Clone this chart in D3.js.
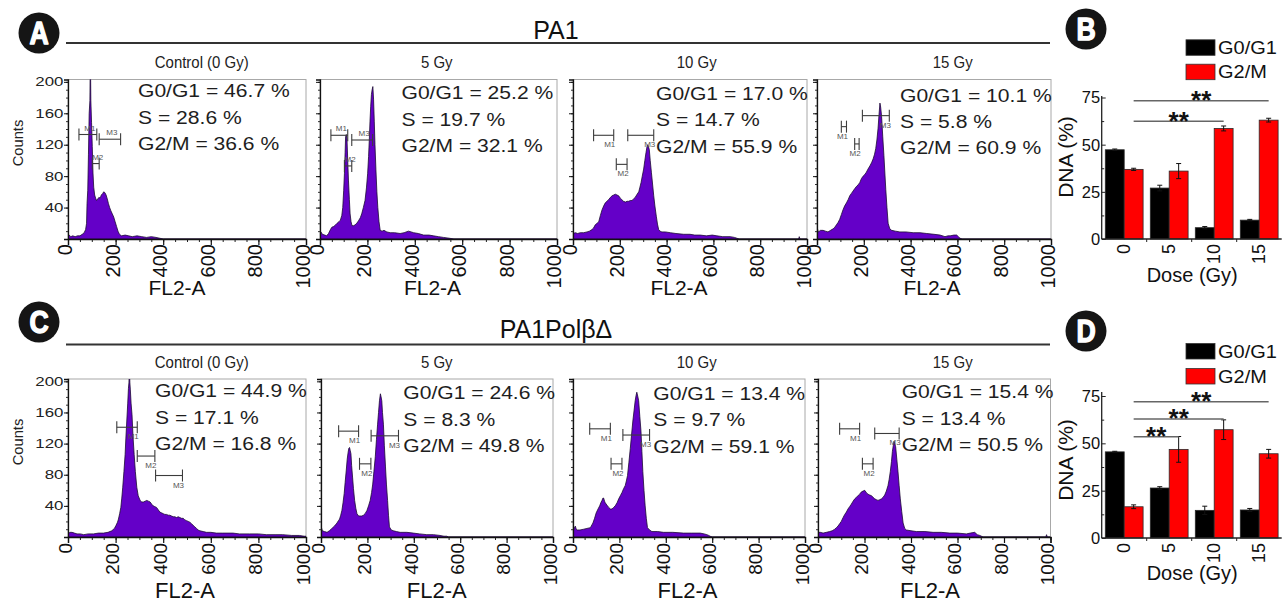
<!DOCTYPE html>
<html>
<head>
<meta charset="utf-8">
<script src="https://cdn.jsdelivr.net/npm/d3@7"></script>
<style>
  body { margin: 0; background: #fff; }
  svg { display: block; }
  text { font-family: Arial, "Liberation Sans", Helvetica, sans-serif; }
</style>
</head>
<body>
<svg id="fig" width="1287" height="606"></svg>
<script>
// ---------------- data ----------------
const doseTitles = ["Control (0 Gy)", "5 Gy", "10 Gy", "15 Gy"];
const doseTicks = ["0", "5", "10", "15"];
const channelTicks = [0, 200, 400, 600, 800, 1000];
const countTicks = [40, 80, 120, 160, 200];
const pctTicks = [0, 25, 50, 75];
const phaseNames = ["G0/G1", "G2/M"];

// FL2-A histograms, [channel, counts]
const pa1Hist0Gy = [[0,2],[5,5],[12,3],[20,4],[30,3],[40,4],[50,4],[60,6],[68,8],[74,12],[78,20],[80,45],[83,62],[86,108],[89,160],[92,176],[94,240],[96,176],[99,148],[102,118],[105,84],[108,66],[112,56],[116,52],[120,49],[125,51],[130,53],[135,52],[140,56],[146,58],[150,60],[155,59],[160,56],[165,51],[170,45],[175,40],[180,36],[186,32],[192,28],[198,22],[204,16],[210,10],[216,6],[225,4],[240,5],[255,4],[270,3],[290,4],[310,3],[330,2],[350,3],[370,2],[385,1],[400,0],[1000,0]];
const pa1Hist5Gy = [[0,7],[4,9],[10,6],[20,5],[28,4],[36,7],[44,12],[50,15],[58,16],[66,18],[72,20],[80,22],[86,24],[92,30],[96,40],[100,62],[103,83],[106,110],[108,130],[111,133],[114,126],[117,100],[120,75],[124,50],[127,32],[131,22],[135,17],[142,17],[148,18],[155,20],[162,23],[170,27],[176,32],[183,40],[190,49],[196,65],[201,83],[205,105],[208,126],[211,150],[214,169],[217,184],[220,190],[223,194],[226,178],[229,150],[232,120],[236,88],[240,60],[244,40],[249,22],[254,11],[262,10],[270,11],[282,9],[296,8],[315,8],[338,7],[355,8],[373,10],[385,9],[395,8],[415,7],[437,5],[460,5],[479,4],[500,3],[521,2],[545,1],[565,0],[1000,0]];
const pa1Hist10Gy = [[0,7],[10,8],[20,7],[31,8],[45,8],[60,9],[70,10],[81,12],[88,14],[95,18],[103,20],[110,22],[117,30],[124,37],[131,42],[138,46],[145,48],[152,50],[160,53],[167,55],[174,56],[181,57],[188,56],[195,55],[202,52],[209,50],[216,48],[224,47],[231,48],[238,48],[245,49],[252,49],[259,51],[266,53],[274,57],[281,60],[286,66],[291,72],[296,80],[302,89],[307,100],[312,110],[316,117],[319,120],[322,118],[326,114],[330,100],[335,85],[340,70],[345,55],[350,42],[356,29],[361,19],[366,12],[372,10],[380,9],[395,9],[416,8],[440,7],[473,6],[500,6],[520,5],[544,5],[570,4],[595,5],[615,4],[640,3],[672,3],[690,2],[700,1],[710,0],[964,0],[967,3],[970,0],[1000,0]];
const pa1Hist15Gy = [[0,16],[3,12],[6,9],[15,11],[26,11],[36,10],[47,9],[58,11],[69,13],[76,15],[83,18],[90,21],[97,25],[104,31],[111,37],[118,42],[126,46],[133,50],[140,55],[147,58],[154,61],[161,64],[169,67],[176,69],[183,72],[190,77],[197,80],[204,82],[211,85],[218,89],[226,93],[233,97],[240,102],[246,108],[251,115],[256,126],[261,141],[265,158],[269,173],[272,168],[276,156],[281,130],[286,106],[290,84],[294,63],[299,40],[304,20],[311,13],[319,11],[335,10],[354,9],[380,9],[411,8],[440,8],[469,7],[500,6],[526,5],[547,3],[560,4],[569,4],[585,5],[597,5],[604,3],[611,1],[620,0],[1000,0]];

const polHist0Gy = [[0,4],[8,6],[17,6],[27,5],[38,4],[52,4],[66,3],[85,4],[107,4],[128,5],[149,5],[168,6],[184,8],[195,11],[202,15],[208,19],[212,23],[217,30],[222,38],[226,50],[230,64],[235,84],[240,106],[243,126],[247,149],[251,172],[254,191],[256,198],[258,215],[260,198],[262,189],[265,172],[269,157],[273,130],[278,106],[283,84],[289,64],[295,53],[303,47],[310,45],[317,45],[324,46],[331,47],[338,46],[345,45],[352,42],[358,40],[365,39],[372,38],[379,35],[386,32],[393,31],[400,30],[407,29],[414,29],[421,28],[428,28],[435,27],[442,26],[449,26],[456,25],[463,26],[470,25],[477,24],[484,24],[491,22],[498,21],[505,20],[512,19],[519,17],[526,15],[533,13],[540,11],[547,9],[554,8],[568,7],[582,6],[600,6],[623,5],[650,5],[693,5],[720,4],[763,4],[800,4],[833,3],[870,3],[902,3],[940,2],[972,2],[993,1],[1000,1]];
const polHist5Gy = [[0,15],[3,11],[6,8],[15,7],[26,6],[36,8],[47,11],[58,14],[69,18],[75,21],[80,23],[85,28],[90,34],[95,44],[100,56],[104,70],[109,86],[113,100],[117,109],[120,114],[123,115],[126,111],[129,107],[132,92],[136,77],[140,62],[145,47],[150,37],[155,30],[162,27],[169,27],[176,27],[183,28],[190,30],[198,34],[205,40],[212,47],[218,57],[223,68],[228,84],[234,103],[239,125],[244,145],[248,160],[252,175],[256,184],[259,180],[262,175],[265,160],[269,145],[273,118],[278,90],[282,68],[287,47],[291,28],[295,13],[303,9],[312,8],[325,7],[341,6],[370,6],[398,5],[425,4],[456,3],[485,3],[513,2],[530,1],[542,1],[550,0],[1000,0]];
const polHist10Gy = [[0,7],[5,11],[10,14],[14,10],[17,9],[30,9],[46,10],[60,11],[75,12],[86,18],[93,24],[100,31],[108,36],[115,40],[120,44],[125,47],[129,50],[132,50],[136,46],[139,44],[146,41],[154,38],[161,36],[168,36],[175,38],[182,40],[190,44],[197,49],[204,53],[211,57],[218,62],[225,66],[230,72],[235,79],[241,96],[247,114],[252,130],[258,149],[263,162],[268,175],[272,182],[275,186],[279,181],[283,175],[288,155],[293,136],[297,110],[301,84],[306,60],[311,40],[316,24],[321,12],[330,9],[340,7],[365,7],[390,6],[430,6],[476,5],[510,5],[548,5],[565,4],[577,3],[585,2],[591,1],[600,0],[1000,0]];
const polHist15Gy = [[0,6],[10,6],[22,5],[36,6],[50,7],[61,8],[72,10],[79,12],[86,14],[93,17],[100,20],[108,25],[115,29],[122,32],[129,36],[136,39],[143,42],[151,46],[158,49],[165,51],[172,53],[179,55],[187,58],[194,59],[201,60],[208,57],[215,55],[222,54],[230,53],[237,51],[244,49],[251,48],[258,47],[266,48],[273,49],[280,51],[287,54],[294,59],[301,66],[306,74],[311,84],[316,97],[320,110],[324,118],[327,123],[330,120],[334,116],[339,100],[344,84],[349,66],[354,49],[360,33],[366,18],[373,11],[380,9],[400,8],[423,7],[460,7],[495,6],[530,6],[567,5],[600,5],[638,4],[655,5],[674,6],[685,3],[696,2],[710,0],[980,0],[983,3],[986,0],[1000,0]];

// marker gates: [name, start channel, end channel, counts level]
const pa1Gates0Gy  = [["M1",46,121,133],["M2",102,131,96],["M3",131,221,127]];
const pa1Gates5Gy  = [["M1",46,117,132],["M2",103,134,93],["M3",134,222,126]];
const pa1Gates10Gy = [["M1",88,174,132],["M2",185,231,95],["M3",234,345,132]];
const pa1Gates15Gy = [["M1",104,126,143],["M2",161,180,121],["M3",194,309,157]];
const polGates0Gy  = [["M1",205,291,141],["M2",291,365,104],["M3",368,481,79]];
const polGates5Gy  = [["M1",76,162,136],["M2",166,215,94],["M3",216,334,130]];
const polGates10Gy = [["M1",72,161,139],["M2",164,211,94],["M3",215,330,131]];
const polGates15Gy = [["M1",93,179,139],["M2",191,237,94],["M3",244,349,133]];

// phase fractions (%) per dose
const pa1G1Pct = [46.7, 25.2, 17.0, 10.1];
const pa1SPct  = [28.6, 19.7, 14.7, 5.8];
const pa1G2Pct = [36.6, 32.1, 55.9, 60.9];
const polG1Pct = [44.9, 24.6, 13.4, 15.4];
const polSPct  = [17.1, 8.3, 9.7, 13.4];
const polG2Pct = [16.8, 49.8, 59.1, 50.5];

// summary bars: mean and error (%)
const pa1G1Mean = [47.3, 27.0, 6.0, 10.0];
const pa1G1Err  = [0.4, 1.5, 0.6, 0.4];
const pa1G2Mean = [36.9, 36.0, 58.6, 63.0];
const pa1G2Err  = [0.6, 4.0, 1.3, 1.0];
const polG1Mean = [45.5, 26.4, 14.6, 14.8];
const polG1Err  = [0.3, 0.7, 2.2, 0.8];
const polG2Mean = [16.5, 46.8, 57.2, 44.5];
const polG2Err  = [1.0, 6.8, 5.2, 2.3];

// significance brackets: [from dose, to dose, mark]
const pa1Sig = [["0","15","**"],["0","10","**"]];
const polSig = [["0","15","**"],["0","10","**"],["0","5","**"]];

// ---------------- layout ----------------
const svg = d3.select("#fig");
const COUNT_MAX = 203;
const PURPLE = "#6400c8";
const INK = "#1a1a1a";

const rowA = {
  key: "a", top: 79.5, bottom: 239,
  lefts: [68, 320, 573, 817], rights: [306, 557, 807, 1051],
  hists: [pa1Hist0Gy, pa1Hist5Gy, pa1Hist10Gy, pa1Hist15Gy],
  gates: [pa1Gates0Gy, pa1Gates5Gy, pa1Gates10Gy, pa1Gates15Gy],
  gateLabelAbove: [true, true, false, false],
  g1: pa1G1Pct, s: pa1SPct, g2: pa1G2Pct,
  textX: [138, 401.5, 656, 900], textY: [97.3, 99.3, 100, 101.7],
  subX: [201.7, 436.7, 696.7, 952.7], subY: 67.5,
  xlabX: [177, 432.5, 679, 932], xlabY: 295, xlabSize: 21, tickSize: 20, tickTop: 244,
  countsY: 143,
  title: "PA1", titleY: 39, lineY: 43
};
const rowC = {
  key: "c", top: 379, bottom: 537,
  lefts: [68, 321, 573, 818], rights: [306, 553, 805, 1050.5],
  hists: [polHist0Gy, polHist5Gy, polHist10Gy, polHist15Gy],
  gates: [polGates0Gy, polGates5Gy, polGates10Gy, polGates15Gy],
  gateLabelAbove: [false, false, false, false],
  g1: polG1Pct, s: polSPct, g2: polG2Pct,
  textX: [155, 403.3, 653.3, 901.7], textY: [397.3, 399.3, 400, 398.3],
  subX: [201.7, 436.7, 696.7, 952.7], subY: 367.5,
  xlabX: [185, 436.7, 687.5, 930], xlabY: 598, xlabSize: 22, tickSize: 19, tickTop: 543,
  countsY: 442,
  title: "PA1PolβΔ", titleY: 338, lineY: 344.5
};

const fmt = d3.format(".1f");

function txt(g, x, y, str, o = {}) {
  return g.append("text")
    .attr("transform", `translate(${x},${y}) rotate(${o.rotate || 0}) scale(${o.sx || 1},1)`)
    .attr("text-anchor", o.anchor || "start")
    .attr("dy", o.dy || null)
    .attr("font-size", o.size || 16)
    .attr("font-weight", o.weight || "normal")
    .attr("fill", o.fill || INK)
    .text(str);
}

// ---------------- histogram panels ----------------
function histPanel(row, i) {
  const L = row.lefts[i], R = row.rights[i], T = row.top, B = row.bottom;
  const x = d3.scaleLinear().domain([0, 1000]).range([L, R]);
  const y = d3.scaleLinear().domain([0, COUNT_MAX]).range([B, T]);
  const g = svg.append("g");

  const clipId = `clip-${row.key}${i}`;
  svg.append("clipPath").attr("id", clipId)
    .append("rect").attr("x", L).attr("y", T).attr("width", R - L).attr("height", B - T);

  g.append("rect").attr("x", L).attr("y", T).attr("width", R - L).attr("height", B - T)
    .attr("fill", "none").attr("stroke", "#a8a8a8").attr("stroke-width", 1);

  const area = d3.area().x(d => x(d[0])).y0(y(0)).y1(d => y(d[1]));
  g.append("path").datum(row.hists[i]).attr("clip-path", `url(#${clipId})`)
    .attr("d", area).attr("fill", PURPLE)
    .attr("stroke", "#1c0a33").attr("stroke-width", 0.8).attr("stroke-linejoin", "round");

  // axes (major + minor ticks)
  const xMinor = d3.range(0, 1001, 50);
  g.append("g").attr("transform", `translate(0,${B})`)
    .call(d3.axisBottom(x).tickValues(xMinor).tickSize(3).tickFormat(""))
    .call(a => a.select(".domain").remove())
    .selectAll("line").attr("stroke", "#222");
  g.append("g").attr("transform", `translate(0,${B})`)
    .call(d3.axisBottom(x).tickValues(channelTicks).tickSize(6).tickFormat(""))
    .call(a => a.select(".domain").attr("stroke", "#111").attr("stroke-width", 1.3))
    .selectAll("line").attr("stroke", "#111").attr("stroke-width", 1.2);
  const yMinor = d3.range(0, 201, 10);
  g.append("g").attr("transform", `translate(${L},0)`)
    .call(d3.axisLeft(y).tickValues(yMinor).tickSize(2).tickFormat(""))
    .call(a => a.select(".domain").remove())
    .selectAll("line").attr("stroke", "#333");
  g.append("g").attr("transform", `translate(${L},0)`)
    .call(d3.axisLeft(y).tickValues(countTicks).tickSize(4).tickFormat(""))
    .call(a => a.select(".domain").attr("stroke", "#111").attr("stroke-width", 1.3))
    .selectAll("line").attr("stroke", "#111");

  channelTicks.forEach(t => {
    txt(g, x(t), row.tickTop, t, { rotate: -90, anchor: "end", dy: "0.2em", size: row.tickSize, fill: "#111" });
  });
  if (i === 0) {
    countTicks.forEach(t => {
      txt(g, L - 4.5, y(t), t, { anchor: "end", dy: "0.36em", size: 12.5, sx: 1.35, fill: "#222" });
    });
    txt(g, 17, row.countsY, "Counts", { rotate: -90, anchor: "middle", dy: "0.36em", size: 15.5, sx: 0.95, fill: "#222" });
  }

  // marker gates
  const gg = g.append("g").attr("stroke", "#3c3c3c").attr("stroke-width", 1.1);
  row.gates[i].forEach(([name, a, b, lvl]) => {
    const x0 = x(a), x1 = x(b), yy = y(lvl);
    gg.append("line").attr("x1", x0).attr("x2", x1).attr("y1", yy).attr("y2", yy);
    gg.append("line").attr("x1", x0).attr("x2", x0).attr("y1", yy - 6).attr("y2", yy + 6);
    gg.append("line").attr("x1", x1).attr("x2", x1).attr("y1", yy - 6).attr("y2", yy + 6);
    if (row.gateLabelAbove[i]) {
      txt(g, (x0 + x1) / 2 + 2, yy - 4, name, { anchor: "middle", size: 8, fill: "#555" });
    } else {
      txt(g, x1 - 4, yy + 12, name, { anchor: "middle", size: 8, fill: "#555" });
    }
  });

  // phase percentages
  const lines = [
    `G0/G1 = ${fmt(row.g1[i])} %`,
    `S = ${fmt(row.s[i])} %`,
    `G2/M = ${fmt(row.g2[i])} %`
  ];
  lines.forEach((s, k) => {
    txt(g, row.textX[i], row.textY[i] + k * 26.3, s, { size: 18.5, sx: 1.14, fill: "#1e1e1e" });
  });

  // titles
  txt(g, row.subX[i], row.subY, doseTitles[i], { anchor: "middle", size: 17, sx: 0.88, fill: "#222" });
  txt(g, row.xlabX[i], row.xlabY, "FL2-A", { anchor: "middle", size: row.xlabSize, fill: "#111" });
}

function header(row) {
  svg.append("line").attr("x1", 66).attr("x2", 1050).attr("y1", row.lineY).attr("y2", row.lineY)
    .attr("stroke", "#333").attr("stroke-width", 2);
  txt(svg, 556, row.titleY, row.title, { anchor: "middle", size: 25, fill: "#111" });
}

function badge(cx, cy, letter) {
  svg.append("circle").attr("cx", cx).attr("cy", cy).attr("r", 20.5).attr("fill", "#151515");
  svg.append("text")
    .attr("transform", `translate(${cx},${cy}) scale(0.86,1)`)
    .attr("text-anchor", "middle").attr("dy", "0.36em")
    .attr("font-size", 31).attr("font-weight", "bold")
    .attr("fill", "#fff").attr("stroke", "#fff").attr("stroke-width", 1.4)
    .attr("stroke-linejoin", "round")
    .text(letter);
}

// ---------------- bar charts ----------------
function barPanel(cfg) {
  const g = svg.append("g");
  const y = d3.scaleLinear().domain([0, 75]).range([cfg.bottom, cfg.y75]);
  const x0 = d3.scaleBand().domain(doseTicks).range([cfg.left, cfg.right])
    .paddingInner(0.16).paddingOuter(0.08);
  const x1 = d3.scaleBand().domain(phaseNames).range([0, x0.bandwidth()]);
  const colors = { "G0/G1": "#000000", "G2/M": "#ff0000" };
  const series = [
    { name: "G0/G1", mean: cfg.g1, err: cfg.g1e },
    { name: "G2/M", mean: cfg.g2, err: cfg.g2e }
  ];

  series.forEach(s => {
    doseTicks.forEach((d, k) => {
      const bx = x0(d) + x1(s.name), bw = x1.bandwidth();
      g.append("rect").attr("x", bx).attr("y", y(s.mean[k]))
        .attr("width", bw).attr("height", y(0) - y(s.mean[k]))
        .attr("fill", colors[s.name]).attr("stroke", "#2a2a2a").attr("stroke-width", 0.8);
      const cx = bx + bw / 2;
      const e = g.append("g").attr("stroke", "#111").attr("stroke-width", 1);
      e.append("line").attr("x1", cx).attr("x2", cx)
        .attr("y1", y(s.mean[k] - s.err[k])).attr("y2", y(s.mean[k] + s.err[k]));
      [s.mean[k] - s.err[k], s.mean[k] + s.err[k]].forEach(v => {
        e.append("line").attr("x1", cx - 2.5).attr("x2", cx + 2.5).attr("y1", y(v)).attr("y2", y(v));
      });
    });
  });

  // axes
  g.append("line").attr("x1", cfg.left).attr("x2", cfg.left).attr("y1", cfg.bottom).attr("y2", cfg.axisTop)
    .attr("stroke", "#222").attr("stroke-width", 1.3);
  g.append("line").attr("x1", cfg.left).attr("x2", cfg.right).attr("y1", cfg.bottom).attr("y2", cfg.bottom)
    .attr("stroke", "#222").attr("stroke-width", 1.3);
  g.append("g").attr("transform", `translate(${cfg.left},0)`)
    .call(d3.axisRight(y).tickValues([12.5, 37.5, 62.5]).tickSize(2.5).tickFormat(""))
    .call(a => a.select(".domain").remove())
    .selectAll("line").attr("stroke", "#222");
  g.append("g").attr("transform", `translate(${cfg.left},0)`)
    .call(d3.axisRight(y).tickValues(pctTicks).tickSize(4).tickFormat(""))
    .call(a => a.select(".domain").remove())
    .selectAll("line").attr("stroke", "#222");
  pctTicks.forEach(t => txt(g, cfg.left - 1.5, y(t), t, { anchor: "end", dy: "0.36em", size: 16.5, fill: "#111" }));
  doseTicks.slice(1).forEach(d => {
    const bx = x0(d) - x0.step() * x0.paddingInner() / 2;
    g.append("line").attr("x1", bx).attr("x2", bx).attr("y1", cfg.bottom).attr("y2", cfg.bottom + 3).attr("stroke", "#222");
  });
  doseTicks.forEach(d => {
    txt(g, x0(d) + x0.bandwidth() / 2, cfg.bottom + 5, d, { rotate: -90, anchor: "end", dy: "0.3em", size: 18, fill: "#111" });
  });
  txt(g, (cfg.left + cfg.right) / 2 + 0.5, cfg.doseY, "Dose (Gy)", { anchor: "middle", size: 20, fill: "#111" });
  txt(g, 1065, cfg.dnaY, "DNA (%)", { rotate: -90, anchor: "middle", dy: "0.36em", size: 21, fill: "#111" });

  // significance brackets
  const redCenter = d => x0(d) + x1("G2/M") + x1.bandwidth() / 2;
  cfg.sig.forEach(([a, b, mark], k) => {
    const yy = y(cfg.sigLevels[k]);
    const xa = redCenter(a), xb = redCenter(b);
    g.append("line").attr("x1", xa).attr("x2", xb).attr("y1", yy).attr("y2", yy)
      .attr("stroke", "#666").attr("stroke-width", 1.5);
    txt(g, (xa + xb) / 2, yy + 8.5, mark, { anchor: "middle", size: 26, weight: "bold", fill: "#111" });
  });

  // legend
  series.forEach((s, k) => {
    const ly = cfg.legendY[k];
    g.append("rect").attr("x", 1186).attr("y", ly - 7.5).attr("width", 29).attr("height", 15.5)
      .attr("fill", colors[s.name]).attr("stroke", "#333").attr("stroke-width", 0.8);
    txt(g, 1218, ly, s.name, { dy: "0.36em", size: 18.5, sx: 1.08, fill: "#111" });
  });
}

// ---------------- draw ----------------
header(rowA);
header(rowC);
for (let i = 0; i < 4; i++) { histPanel(rowA, i); histPanel(rowC, i); }

barPanel({
  left: 1101.7, right: 1281.7, bottom: 239, y75: 97.5, axisTop: 96,
  g1: pa1G1Mean, g1e: pa1G1Err, g2: pa1G2Mean, g2e: pa1G2Err,
  sig: pa1Sig, sigLevels: [73.3, 62.4],
  legendY: [47.3, 71.7], doseY: 282, dnaY: 157
});
barPanel({
  left: 1101.7, right: 1281.7, bottom: 538, y75: 396, axisTop: 392,
  g1: polG1Mean, g1e: polG1Err, g2: polG2Mean, g2e: polG2Err,
  sig: polSig, sigLevels: [72.0, 62.9, 53.5],
  legendY: [351, 376], doseY: 580, dnaY: 460
});

badge(39, 33, "A");
badge(1086, 29, "B");
badge(39, 322, "C");
badge(1086, 331, "D");
</script>
</body>
</html>
